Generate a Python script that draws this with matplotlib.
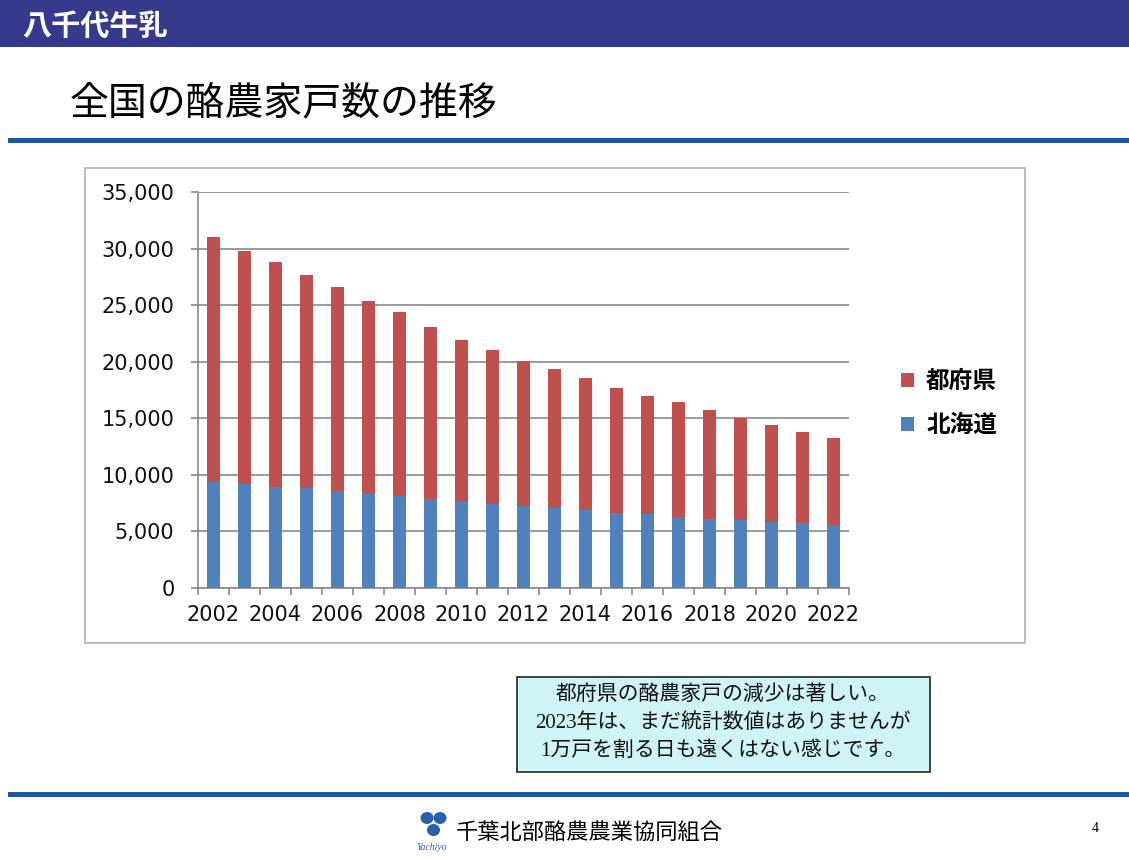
"""全国の酪農家戸数の推移 — stacked bars, slide-style page."""

import matplotlib
matplotlib.use("Agg")
import matplotlib.pyplot as plt
from matplotlib.patches import Rectangle, Ellipse

plt.rcParams["font.family"] = ["DejaVu Sans", "Noto Sans CJK JP"]

# data
years = list(range(2002, 2023))
hokkaido = [9380, 9170, 8970, 8830, 8570, 8310, 8090, 7840, 7650, 7460, 7270,
            7040, 6860, 6630, 6510, 6310, 6140, 5970, 5840, 5710, 5560]
prefectures = [21620, 20630, 19830, 18870, 18030, 17090, 16310, 15260, 14250, 13540, 12830,
               12360, 11740, 11070, 10490, 10090, 9560, 9030, 8560, 8090, 7740]
series_names = ["都府県", "北海道"]
y_ticks = [0, 5000, 10000, 15000, 20000, 25000, 30000, 35000]

title = "全国の酪農家戸数の推移"
brand = "八千代牛乳"
note_lines = ["都府県の酪農家戸の減少は著しい。",
              "2023年は、まだ統計数値はありませんが",
              "1万戸を割る日も遠くはない感じです。"]
footer = "千葉北部酪農農業協同組合"
page_no = "4"

RED = "#c0504d"
BLUE = "#4f81bd"
NAVY = "#363a8c"
RULE = "#1f57a6"
JP = ["Noto Sans CJK JP", "DejaVu Sans"]

W, H = 1129, 859


def fx(px):
    return px / W


def fy(py):
    return 1 - py / H


def band(x0, y0, x1, y1, **kw):
    # прямоугольник в пиксельных координатах слайда (y сверху вниз)
    r = Rectangle((fx(x0), fy(y1)), (x1 - x0) / W, (y1 - y0) / H,
                  transform=fig.transFigure, **kw)
    fig.patches.append(r)
    return r


fig = plt.figure(figsize=(W / 100, H / 100), dpi=100)
fig.patch.set_facecolor("white")

# header band + brand
band(0, 0, W, 47, facecolor=NAVY, edgecolor="none")
fig.text(fx(22), fy(26), brand, color="white", fontsize=21, fontweight="bold",
         family=JP, va="center", ha="left", style="italic")

# title + rules
fig.text(fx(70), fy(103), title, fontsize=28, family=JP, va="center", ha="left",
         style="italic")
band(8, 138, W, 143, facecolor=RULE, edgecolor="none")
band(8, 792, W, 797, facecolor=RULE, edgecolor="none")

# chart frame (below the axes)
band(85, 168, 1025, 643, facecolor="white", edgecolor="#b0b0b0", linewidth=1.2,
     zorder=-5)

ax = fig.add_axes([fx(198), fy(588), (849 - 198) / W, (588 - 192) / H])
ax.set_zorder(2)
x = list(range(len(years)))
ax.bar(x, hokkaido, width=0.43, color=BLUE, label=series_names[1], zorder=3)
ax.bar(x, prefectures, bottom=hokkaido, width=0.43, color=RED,
       label=series_names[0], zorder=3)

ax.set_xlim(-0.5, len(years) - 0.5)
ax.set_ylim(0, 35000)
ax.set_yticks(y_ticks)
ax.set_yticklabels([f"{v:,}" for v in y_ticks])
ax.yaxis.grid(True, color="#8a8a8a", linewidth=1.2, zorder=0)
ax.set_axisbelow(True)

ax.set_xticks(x[::2])
ax.set_xticklabels([str(y) for y in years[::2]])
ax.set_xticks([i - 0.5 for i in range(len(years) + 1)], minor=True)
ax.tick_params(axis="x", which="major", length=0, pad=12, labelsize=15, colors="#111111")
ax.tick_params(axis="x", which="minor", length=5, color="#8a8a8a", width=1.2)
ax.tick_params(axis="y", length=5, color="#8a8a8a", width=1.2, pad=12,
               labelsize=15, labelcolor="#111111")
for side in ("top", "right"):
    ax.spines[side].set_visible(False)
for side in ("left", "bottom"):
    ax.spines[side].set_color("#8a8a8a")
    ax.spines[side].set_linewidth(1.2)
ax.set_facecolor("none")

# legend (red first, like the slide)
handles, labels = ax.get_legend_handles_labels()
fig.legend(handles[::-1], labels[::-1], loc="center left",
           bbox_to_anchor=(fx(880), fy(403)), frameon=False,
           prop={"family": JP, "size": 17, "weight": "bold"},
           handlelength=0.55, handleheight=0.55, labelspacing=0.85,
           handletextpad=0.5)

# note box
band(517, 677, 930, 772, facecolor="#cff4f7", edgecolor="#333333", linewidth=1.3)
for i, line in enumerate(note_lines):
    fig.text(fx(723), fy(695 + 28 * i), line, fontsize=15, ha="center", va="center",
             family=["Liberation Serif", "Noto Sans CJK JP"], color="#111111")

# footer: simple clover mark + union name
for cx, cy in [(427, 818), (440, 818), (433.5, 830)]:
    fig.patches.append(Ellipse((fx(cx), fy(cy)), 13 / W, 12 / H,
                               transform=fig.transFigure,
                               facecolor="#2a5fae", edgecolor="none"))
fig.text(fx(432), fy(847), "Yachiyo", fontsize=7, style="italic", color="#2a5fae",
         ha="center", va="center", family=["Liberation Serif"])
fig.text(fx(456), fy(832), footer, fontsize=16, family=JP, ha="left", va="center")
fig.text(fx(1095), fy(828), page_no, fontsize=10, ha="center", va="center",
         family=["Liberation Serif"])

fig.savefig("out.png", dpi=100)
